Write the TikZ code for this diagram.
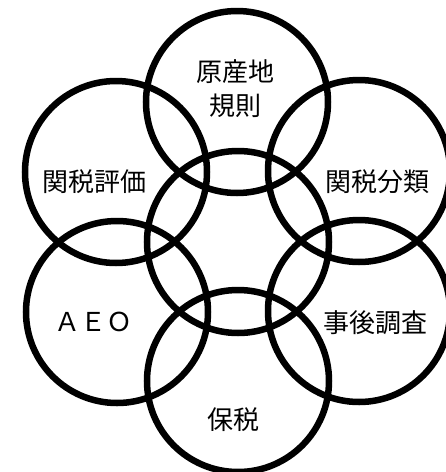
\documentclass[tikz,border=0pt]{standalone}
\usepackage{fontspec}
\newfontfamily\cjk{Noto Sans CJK JP}
\begin{document}
\begin{tikzpicture}[x=1pt,y=-1pt,
  ring/.style={draw=black,line width=6.5pt,circle,minimum size=182pt,inner sep=0pt},
  lbl/.style={font=\cjk\fontsize{26}{34}\selectfont,align=center,inner sep=0pt}]
\useasboundingbox (0,0) rectangle (446,472);
\node[ring] (mid) at (238,242) {};
\node[ring] (top) at (237,102) {};
\node[ring] (ul) at (116,172) {};
\node[ring] (ur) at (359,171) {};
\node[ring] (ll) at (117,312) {};
\node[ring] (lr) at (359,311) {};
\node[ring] (bot) at (238,381) {};
\node[lbl] (t1) at (235,89) {原産地\\規則};
\node[lbl] (t2) at (94,182) {関税評価};
\node[lbl] (t3) at (377,182) {関税分類};
\node[lbl] (t4) at (93,322) {ＡＥＯ};
\node[lbl] (t5) at (375,323) {事後調査};
\node[lbl] (t6) at (233,420) {保税};
\end{tikzpicture}
\end{document}
